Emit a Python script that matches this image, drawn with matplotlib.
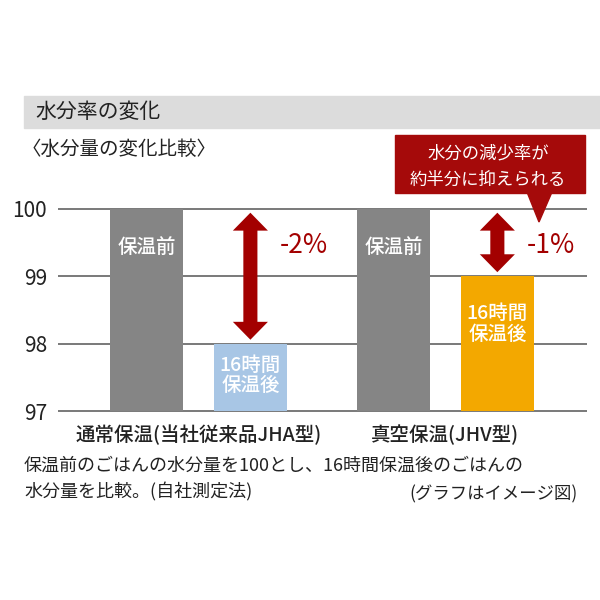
import matplotlib.pyplot as plt
from matplotlib.patches import Rectangle, Polygon

plt.rcParams["font.family"] = ["Noto Sans CJK JP", "DejaVu Sans"]

# data
groups = ["通常保温(当社従来品JHA型)", "真空保温(JHV型)"]
before = [100, 100]
after = [98, 99]
change_labels = ["-2%", "-1%"]
after_colors = ["#a8c6e5", "#f3a800"]
before_label = "保温前"
after_label = "16時間\n保温後"
yticks = [97, 98, 99, 100]

RED = "#a30000"
GRAY = "#858585"

fig = plt.figure(figsize=(6, 6), dpi=100)
W = H = 600.0


def fx(px):
    return px / W


def fy(py):
    return 1 - py / H


# header band
fig.patches.append(Rectangle((fx(24), fy(128)), fx(600) - fx(24), fy(96) - fy(128),
                             transform=fig.transFigure, color="#dcdcdc", zorder=0))
fig.text(fx(35), fy(112), "水分率の変化", fontsize=15, va="center", ha="left", color="#222222")
fig.text(fx(22), fy(149), "〈水分量の変化比較〉", fontsize=14, va="center", ha="left", color="#222222")

ax = fig.add_axes([fx(58), fy(412), fx(587) - fx(58), fy(208) - fy(412)])
xs = list(range(len(groups)))
off = 0.21
bw = 0.296
xb = [x - off for x in xs]
xa = [x + off for x in xs]
ax.bar(xb, [b - 97 for b in before], bottom=97, width=bw, color=GRAY, zorder=2)
ax.bar(xa, [a - 97 for a in after], bottom=97, width=bw, color=after_colors, zorder=2)

ax.set_xlim(-0.569, 1.573)
ax.set_ylim(96.99, 100.01)
ax.set_yticks(yticks)
ax.set_yticklabels([str(t) for t in yticks], fontsize=15, color="#222222")
ax.tick_params(axis="y", length=0, pad=8)
ax.set_xticks(xs)
ax.set_xticklabels(groups, fontsize=14, fontweight="medium", color="#222222")
ax.tick_params(axis="x", length=0, pad=9)
ax.grid(axis="y", color="#555555", lw=1.1, zorder=1)
for s in ax.spines.values():
    s.set_visible(False)

for i in xs:
    ax.text(xb[i], 99.43, before_label, color="white", fontsize=14, fontweight="medium",
            ha="center", va="center", zorder=3)
ax.text(xa[0], 97.53, after_label, color="white", fontsize=14, fontweight="medium",
        ha="center", va="center", linespacing=1.1, zorder=3)
ax.text(xa[1], 98.29, after_label, color="white", fontsize=14, fontweight="medium",
        ha="center", va="center", linespacing=1.1, zorder=3)

# double arrows (one polygon each)
gap = 0.06
sw, hw, hl = 0.057 / 2, 0.142 / 2, 0.265
for i in xs:
    x = xa[i]
    top = before[i] - gap
    bot = after[i] + gap
    pts = [(x, top), (x + hw, top - hl), (x + sw, top - hl), (x + sw, bot + hl),
           (x + hw, bot + hl), (x, bot), (x - hw, bot + hl), (x - sw, bot + hl),
           (x - sw, top - hl), (x - hw, top - hl)]
    ax.add_patch(Polygon(pts, closed=True, color=RED, lw=0, zorder=4))
    ax.text(x + 0.12, 99.45, change_labels[i], color=RED, fontsize=19,
            ha="left", va="center", zorder=4)

# callout
fig.patches.append(Rectangle((fx(395), fy(193)), fx(585) - fx(395), fy(135) - fy(193),
                             transform=fig.transFigure, color="#a50a0a", zorder=5))
fig.patches.append(Polygon([(fx(527), fy(192)), (fx(552), fy(192)), (fx(539), fy(222))],
                           closed=True, transform=fig.transFigure, color="#a50a0a", zorder=5))
fig.text(fx(488), fy(153), "水分の減少率が", color="white", fontsize=12.5, ha="center", va="center", zorder=6)
fig.text(fx(488), fy(180), "約半分に抑えられる", color="white", fontsize=12.5, ha="center", va="center", zorder=6)

# footer
fig.text(fx(24), fy(466), "保温前のごはんの水分量を100とし、16時間保温後のごはんの", fontsize=13,
         ha="left", va="center", color="#222222")
fig.text(fx(24), fy(492), "水分量を比較。(自社測定法)", fontsize=13, ha="left", va="center", color="#222222")
fig.text(fx(578), fy(494), "(グラフはイメージ図)", fontsize=12.5, ha="right", va="center", color="#222222")

fig.savefig("out.png", dpi=100)
